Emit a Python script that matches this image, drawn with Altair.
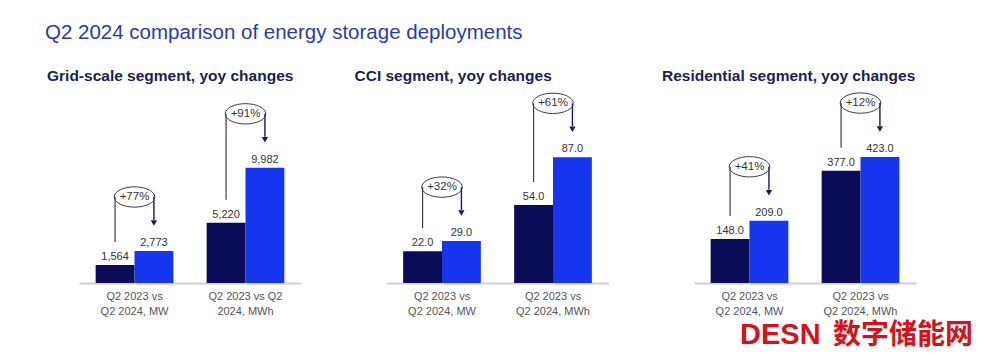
import altair as alt
import pandas as pd

# ---------------- data ----------------
main_title = "Q2 2024 comparison of energy storage deployments"
periods = ["Q2 2023", "Q2 2024"]

panel_titles = [
    "Grid-scale segment, yoy changes",
    "CCI segment, yoy changes",
    "Residential segment, yoy changes",
]

grid_groups = ["Q2 2023 vs|Q2 2024, MW", "Q2 2023 vs Q2|2024, MWh"]
grid_q2_2023 = [1564, 5220]
grid_q2_2024 = [2773, 9982]
grid_change = ["+77%", "+91%"]

cci_groups = ["Q2 2023 vs|Q2 2024, MW", "Q2 2023 vs|Q2 2024, MWh"]
cci_q2_2023 = [22.0, 54.0]
cci_q2_2024 = [29.0, 87.0]
cci_change = ["+32%", "+61%"]

res_groups = ["Q2 2023 vs|Q2 2024, MW", "Q2 2023 vs|Q2 2024, MWh"]
res_q2_2023 = [148.0, 377.0]
res_q2_2024 = [209.0, 423.0]
res_change = ["+41%", "+12%"]

value_formats = [",d", ".1f", ".1f"]
y_maxima = [16900, 135, 655]

watermark_latin = "DESN"
watermark_cjk = "数字储能网"

# ---------------- style ----------------
NAVY = "#0b0c57"
BLUE = "#1535ee"
LINE = "#3a3a4a"
ARROW = "#151a60"
SANS = "Liberation Sans, Arial, sans-serif"
ELLIPSE = "M-1,0A1,0.5,0,1,1,1,0A1,0.5,0,1,1,-1,0Z"

PW, PH = 222, 195


def panel(title, groups, v23, v24, change, fmt, ymax, watermark=False):
    bars_df = pd.DataFrame({
        "group": groups + groups,
        "period": [periods[0]] * len(groups) + [periods[1]] * len(groups),
        "value": v23 + v24,
    })
    pairs_df = pd.DataFrame({
        "group": groups,
        "v23": v23,
        "v24": v24,
        "change": change,
        "p23": [periods[0]] * len(groups),
        "p24": [periods[1]] * len(groups),
    })

    x = alt.X(
        "group:N", sort=groups,
        scale=alt.Scale(paddingInner=0.3, paddingOuter=0.15),
        axis=alt.Axis(title=None, labelAngle=0, ticks=False, domainColor="#cfcfcf",
                      domainWidth=2, labelExpr="split(datum.label, '|')",
                      labelFontSize=11, labelColor="#555555", labelFont=SANS,
                      labelLineHeight=15, labelPadding=7),
    )
    yscale = alt.Scale(domain=[0, ymax], nice=False, zero=True)

    bars = alt.Chart(bars_df).mark_bar().encode(
        x=x,
        xOffset=alt.XOffset("period:N", scale=alt.Scale(domain=periods)),
        y=alt.Y("value:Q", scale=yscale, axis=None),
        color=alt.Color("period:N", scale=alt.Scale(domain=periods, range=[NAVY, BLUE]), legend=None),
    )
    labels = alt.Chart(bars_df).mark_text(
        baseline="bottom", dy=-3, fontSize=11, font=SANS, color="#333333"
    ).encode(
        x=x, xOffset="period:N", y="value:Q", text=alt.Text("value:Q", format=fmt)
    )
    left_rule = alt.Chart(pairs_df).mark_rule(
        color=LINE, strokeWidth=1.2, yOffset=-23, y2Offset=-54
    ).encode(x=x, xOffset="p23:N", y="v23:Q", y2="v24:Q")
    right_rule = alt.Chart(pairs_df).mark_rule(
        color=ARROW, strokeWidth=1.4, yOffset=-54, y2Offset=-31
    ).encode(x=x, xOffset="p24:N", y="v24:Q", y2="v24:Q")
    arrow = alt.Chart(pairs_df).mark_point(
        shape="triangle-down", filled=True, size=40, color=ARROW, opacity=1, yOffset=-28
    ).encode(x=x, xOffset="p24:N", y="v24:Q")
    oval = alt.Chart(pairs_df).mark_point(
        shape=ELLIPSE, size=1650, filled=False, color=LINE, strokeWidth=1, opacity=1, yOffset=-54
    ).encode(x=x, y="v24:Q")
    pct = alt.Chart(pairs_df).mark_text(
        fontSize=11.5, font=SANS, color="#333333", baseline="middle", dy=-54
    ).encode(x=x, y="v24:Q", text="change:N")

    layers = [bars, labels, left_rule, right_rule, arrow, oval, pct]
    if watermark:
        wm_df = pd.DataFrame({"a": [watermark_latin], "b": [watermark_cjk]})
        layers.append(alt.Chart(wm_df).mark_text(
            align="left", baseline="alphabetic", fontSize=29, fontWeight="bold",
            font=SANS, color="#d4121c"
        ).encode(x=alt.value(46), y=alt.value(256), text="a:N"))
        layers.append(alt.Chart(wm_df).mark_text(
            align="left", baseline="alphabetic", fontSize=28, fontWeight="bold",
            font="Noto Sans CJK SC", color="#d4121c"
        ).encode(x=alt.value(139), y=alt.value(256), text="b:N"))

    return alt.layer(*layers).properties(
        width=PW, height=PH,
        title=alt.TitleParams(title, anchor="start", dx=-32, offset=4, fontSize=15.5,
                              fontWeight="bold", font=SANS, color="#1b1f4e"),
    )


p1 = panel(panel_titles[0], grid_groups, grid_q2_2023, grid_q2_2024, grid_change, value_formats[0], y_maxima[0])
p2 = panel(panel_titles[1], cci_groups, cci_q2_2023, cci_q2_2024, cci_change, value_formats[1], y_maxima[1])
p3 = panel(panel_titles[2], res_groups, res_q2_2023, res_q2_2024, res_change, value_formats[2], y_maxima[2], watermark=True)

chart = alt.hconcat(
    p1, p2, p3, spacing=85.5, bounds="flush",
    title=alt.TitleParams(main_title, anchor="start", dx=-2, fontSize=20.5, font=SANS,
                          fontWeight="normal", color="#2c3aa6", offset=25),
).properties(
    padding={"left": 37, "top": 15, "right": 5, "bottom": 3},
    background="white",
).configure_view(stroke=None).configure_axis(grid=False)

chart.save("out.html", embed_options={"renderer": "svg", "actions": False})
